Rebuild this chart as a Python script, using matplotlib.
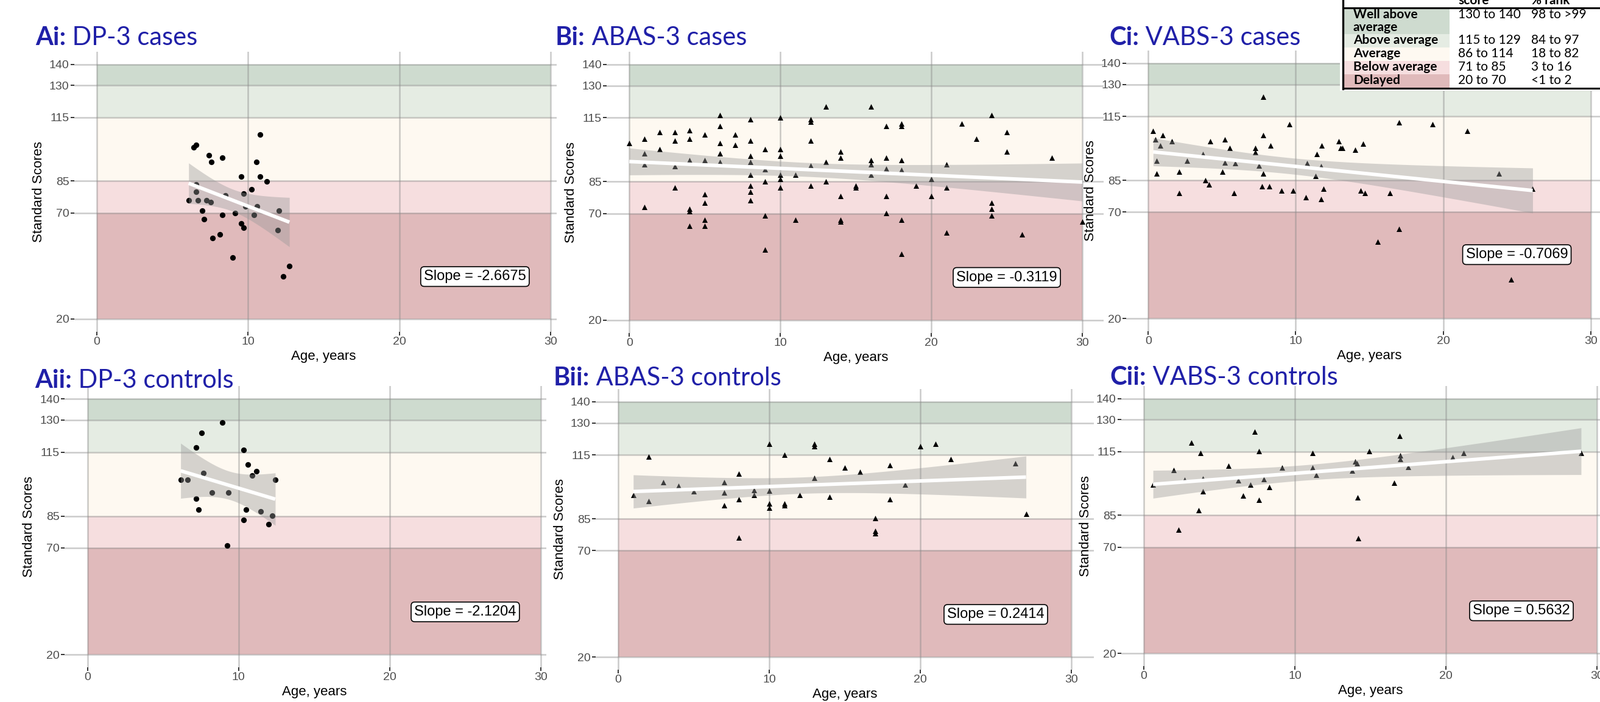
import numpy as np
import matplotlib.pyplot as plt
from matplotlib.patches import Rectangle

W, H = 2627, 1153

# ---------------- data ----------------
dp3_cases_age = [6.42, 6.56, 7.41, 7.58, 8.31, 10.81, 10.55, 9.56, 10.81, 11.22, 10.23, 9.72,
                 8.50, 6.56, 6.58, 6.07, 6.67, 7.25, 7.55, 6.97, 7.07, 8.31, 9.15, 9.82,
                 10.58, 10.39, 12.06, 9.56, 9.72, 11.96, 8.15, 7.64, 8.98, 12.73, 12.31]
dp3_cases_score = [100.9, 102.0, 97.1, 94.0, 96.0, 107.0, 94.0, 87.0, 87.0, 84.9, 81.0, 79.0,
                   78.3, 83.3, 80.0, 76.0, 76.0, 76.0, 75.0, 71.0, 67.0, 69.0, 70.0, 73.0,
                   73.0, 69.0, 71.0, 65.0, 63.0, 62.0, 60.0, 58.0, 49.0, 45.0, 40.0]

dp3_ctrl_age = [8.91, 7.57, 7.18, 10.35, 10.60, 11.18, 10.92, 7.67, 6.17, 6.61, 12.43,
                8.24, 9.33, 7.18, 7.34, 10.51, 11.48, 12.24, 10.35, 11.99, 9.26]
dp3_ctrl_score = [129.0, 124.1, 117.1, 116.1, 109.1, 106.1, 104.1, 105.2, 102.1, 102.1, 102.1,
                  96.1, 96.1, 93.1, 88.1, 88.1, 87.1, 85.1, 83.1, 81.1, 71.1]

abas_cases_age = [13, 16, 6, 10, 12, 12, 24, 8, 22, 17, 18, 18, 6, 4, 2, 3, 25, 5, 7, 1, 4, 23,
                  0, 3, 8, 12, 6, 7, 2, 9, 10, 1, 6, 14, 25, 8, 10, 14, 17, 28, 4, 5, 16, 18,
                  6, 8, 13, 1, 16, 21, 3, 12, 9, 17, 18, 8, 10, 11, 16, 10, 20, 9, 13, 8, 12,
                  15, 15, 19, 3, 10, 21, 8, 5, 14, 17, 20, 8, 5, 24, 1, 4, 4, 24, 17, 9, 24,
                  5, 11, 14, 14, 18, 30, 4, 5, 21, 26, 9, 18]
abas_cases_score = [120.1, 120.1, 116.1, 115.1, 114.2, 113.1, 116.1, 114.2, 112.2, 111.1, 112.2,
                    111.1, 111.1, 109.1, 108.2, 108.2, 108.2, 107.1, 107.1, 105.1, 105.1, 105.1,
                    103.1, 104.2, 104.2, 104.2, 103.1, 102.2, 100.2, 100.2, 100.2, 98.2, 98.2,
                    99.1, 99.1, 97.1, 97.1, 96.2, 96.2, 96.2, 95.2, 95.2, 95.2, 95.2, 94.3, 94.3,
                    94.3, 93.0, 93.0, 93.0, 92.1, 92.4, 90.7, 91.1, 90.4, 88.1, 88.1, 88.1, 88.1,
                    86.1, 86.1, 85.1, 85.1, 83.1, 83.1, 83.1, 82.2, 83.1, 82.2, 82.2, 82.2, 80.1,
                    79.1, 78.2, 78.2, 78.2, 76.2, 75.1, 75.1, 73.2, 72.2, 71.2, 72.2, 70.2, 69.2,
                    69.2, 67.2, 67.2, 67.2, 66.2, 67.2, 66.2, 64.3, 64.3, 61.2, 60.3, 53.2, 51.2]

abas_ctrl_age = [10, 13, 13, 21, 20, 2, 11, 14, 22, 26.3, 15, 18, 16, 8, 13, 3, 7, 4, 19, 5, 9,
                 10, 1, 9, 12, 7, 14, 2, 8, 18, 7, 10, 10, 11, 11, 27, 17, 17, 17, 8]
abas_ctrl_score = [120.3, 120.3, 119.2, 120.3, 119.2, 114.2, 115.2, 113.2, 113.2, 111.2, 109.2,
                   110.2, 107.2, 106.2, 104.2, 102.2, 102.2, 100.4, 101.0, 97.9, 98.6, 98.2, 96.1,
                   96.1, 96.1, 97.2, 95.2, 93.2, 94.2, 94.2, 91.2, 92.2, 90.2, 92.2, 91.2, 87.2,
                   85.2, 79.2, 78.2, 76.2]

vabs_cases_age = [7.80, 17.0, 19.27, 9.56, 21.64, 0.33, 0.96, 7.78, 0.47, 5.18, 1.60, 4.22, 12.91,
                  14.56, 0.82, 8.31, 11.76, 5.53, 7.24, 13.04, 13.18, 14.02, 7.24, 11.44, 3.71,
                  0.56, 2.62, 5.18, 5.91, 10.78, 7.51, 11.71, 2.09, 5.04, 0.56, 7.80, 11.36, 23.8,
                  3.87, 4.11, 7.71, 8.22, 11.87, 26.07, 9.04, 9.82, 14.40, 2.11, 5.80, 14.71,
                  16.40, 10.69, 11.71, 17.0, 15.58, 24.6]
vabs_cases_score = [124.3, 112.2, 111.3, 111.3, 108.2, 108.2, 106.2, 106.2, 104.2, 104.2, 103.2,
                    103.2, 103.2, 102.2, 101.2, 101.2, 101.2, 100.2, 100.2, 100.2, 100.2, 99.2,
                    98.2, 97.2, 97.4, 94.2, 94.2, 93.4, 92.9, 93.1, 91.8, 91.5, 89.1, 89.1, 88.2,
                    88.2, 87.1, 88.2, 85.1, 83.1, 82.2, 82.2, 81.1, 81.1, 80.2, 80.2, 80.2, 79.1,
                    79.1, 79.1, 79.1, 77.1, 76.2, 62.2, 56.2, 38.2]

vabs_ctrl_age = [7.32, 16.95, 3.14, 3.75, 7.63, 11.15, 14.92, 21.18, 28.95, 16.99, 20.44, 16.99,
                 14.01, 14.10, 5.60, 9.15, 11.15, 17.52, 1.98, 11.42, 13.79, 3.90, 7.95, 2.70,
                 6.25, 16.56, 0.61, 7.04, 8.32, 3.92, 6.58, 7.63, 14.14, 3.64, 2.31, 14.18]
vabs_ctrl_score = [124.3, 122.4, 119.3, 114.3, 115.3, 114.3, 115.3, 114.3, 114.3, 113.3, 112.3,
                   111.4, 110.4, 109.4, 108.3, 107.4, 107.4, 107.9, 106.3, 104.1, 106.0, 102.4,
                   102.1, 101.7, 101.4, 100.3, 99.4, 99.4, 98.3, 96.3, 94.3, 92.4, 93.3, 87.3,
                   78.3, 74.3]

panel_titles = [("Ai:", " DP-3 cases"), ("Bi:", " ABAS-3 cases"), ("Ci:", " VABS-3 cases"),
                ("Aii:", " DP-3 controls"), ("Bii:", " ABAS-3 controls"), ("Cii:", " VABS-3 controls")]
slope_labels = ["Slope = -2.6675", "Slope = -0.3119", "Slope = -0.7069",
                "Slope = -2.1204", "Slope = 0.2414", "Slope = 0.5632"]

band_names = ["Well above\naverage", "Above average", "Average", "Below average", "Delayed"]
band_scores = ["130 to 140", "115 to 129", "86 to 114", "71 to 85", "20 to 70"]
band_ranks = ["98 to >99", "84 to 97", "18 to 82", "3 to 16", "<1 to 2"]
band_lo = [130, 115, 85, 70, 20]
band_hi = [140, 130, 115, 85, 70]
band_colors = ["#CEDBCF", "#E5ECE3", "#FEF9F1", "#F6DEDF", "#E0BABB"]

y_breaks = [20, 70, 85, 115, 130, 140]
x_breaks = [0, 10, 20, 30]

# ---------------- layout (pixels in the 2627x1153 canvas) ----------------
# x of age 0, x of age 30, y of score 140, y of score 20, right cut of the panel
geom = [(159, 904, 105.5, 524, 914), (1033.3, 1777, 105.7, 525.7, 1812),
        (1885.3, 2611.6, 104, 523, 2627), (143.5, 888, 655, 1075, 897),
        (1015, 1759, 660, 1079, 1796), (1878, 2622, 654.6, 1073, 2627)]
title_pos = [(58, 74), (912, 74), (1821, 74), (57, 637), (909, 633), (1822, 632)]
label_y = [40, 40, 50, 40, 40, 40]

data = [(dp3_cases_age, dp3_cases_score, "o"), (abas_cases_age, abas_cases_score, "^"),
        (vabs_cases_age, vabs_cases_score, "^"), (dp3_ctrl_age, dp3_ctrl_score, "o"),
        (abas_ctrl_age, abas_ctrl_score, "^"), (vabs_ctrl_age, vabs_ctrl_score, "^")]

arial = ["Liberation Sans", "DejaVu Sans"]
calibri = ["Lato", "DejaVu Sans"]
blue = "#2020A8"

fig = plt.figure(figsize=(W / 100, H / 100), dpi=100)
fig.patch.set_facecolor("white")


def ols_band(x, y):
    x = np.asarray(x, float)
    y = np.asarray(y, float)
    n = len(x)
    b, a = np.polyfit(x, y, 1)
    xs = np.linspace(x.min(), x.max(), 80)
    fit = a + b * xs
    resid = y - (a + b * x)
    s = np.sqrt((resid ** 2).sum() / (n - 2))
    sxx = ((x - x.mean()) ** 2).sum()
    tcrit = 1.96 + 2.5 / (n - 2)
    se = s * np.sqrt(1.0 / n + (xs - x.mean()) ** 2 / sxx)
    return xs, fit, fit - tcrit * se, fit + tcrit * se


for i, (x0, x30, y140, y20, rcut) in enumerate(geom):
    ux = (x30 - x0) / 30.0
    uy = (y20 - y140) / 120.0
    left = x0 - 1.5 * ux
    right = min(rcut, x0 + 31.5 * ux)
    top = y140 - 6 * uy
    bottom = y20 + 6 * uy
    ax = fig.add_axes([left / W, 1 - bottom / H, (right - left) / W, (bottom - top) / H])
    ax.patch.set_alpha(0)
    xmax = (right - x0) / ux
    ax.set_xlim(-1.5, xmax)
    ax.set_ylim(14, 146)

    for lo, hi, c in zip(band_lo, band_hi, band_colors):
        ax.add_patch(Rectangle((0, lo), 30, hi - lo, facecolor=c, edgecolor="none", zorder=1))

    ax.set_axisbelow(False)
    ax.grid(True, color="#8a8a8a", alpha=0.45, linewidth=1.8)
    for sp in ax.spines.values():
        sp.set_visible(False)
    ax.set_xticks(x_breaks)
    ax.set_yticks(y_breaks)
    ax.tick_params(length=4, width=1.4, color="#333333", labelcolor="#4D4D4D",
                   labelsize=14, pad=2)
    for lab in ax.get_xticklabels() + ax.get_yticklabels():
        lab.set_family(arial)

    xs, ys, mk = data[i]
    ax.scatter(xs, ys, marker=mk, s=44 if mk == "o" else 42, color="black",
               linewidths=0, zorder=3)
    gx, gfit, glo, ghi = ols_band(xs, ys)
    ax.fill_between(gx, glo, ghi, color="#999999", alpha=0.4, linewidth=0, zorder=4)
    ax.plot(gx, gfit, color="white", linewidth=4.2, zorder=5, solid_capstyle="butt")

    ax.text(25, label_y[i], slope_labels[i], ha="center", va="center", fontsize=17,
            family=arial, zorder=6,
            bbox=dict(boxstyle="round,pad=0.22,rounding_size=0.25", fc="white",
                      ec="black", lw=1.2))

    ax.set_xlabel("Age, years", fontsize=16, family=arial, labelpad=3.5)
    ax.xaxis.label.set_x((15 + 1.5) / (xmax + 1.5))
    ax.set_ylabel("Standard Scores", fontsize=16, family=arial, labelpad=5)

    tx, ty = title_pos[i]
    bold, rest = panel_titles[i]
    t1 = ax.text(tx / W, 1 - ty / H, bold, transform=fig.transFigure, fontsize=30,
                 weight="bold", color=blue, family=calibri, va="baseline", ha="left",
                 zorder=10)
    ax.annotate(rest, xy=(1, 0), xycoords=t1, va="bottom", ha="left", fontsize=30,
                color=blue, family=calibri, annotation_clip=False, zorder=10)

# ---------------- legend table (top right) ----------------
tl, tb = 2200, 149
tab = fig.add_axes([tl / W, 1 - tb / H, (W - tl) / W, tb / H])
tab.set_xlim(0, W - tl)
tab.set_ylim(tb, 0)
tab.axis("off")
tab.add_patch(Rectangle((0, 0), W - tl, tb, facecolor="white", edgecolor="none", zorder=0))
row_h = [42, 22, 22, 22, 22]
row_top = 13.5
col_x = [22, 194, 314]
tfs = 15
tab.text(col_x[1], 7, "score", fontsize=tfs, weight="bold", family=calibri, va="baseline")
tab.text(col_x[2], 7, "% rank", fontsize=tfs, weight="bold", family=calibri, va="baseline")
for name, sc, rk, c, h in zip(band_names, band_scores, band_ranks, band_colors, row_h):
    tab.add_patch(Rectangle((6, row_top), 174, h, facecolor=c, edgecolor="none", zorder=1))
    tab.text(col_x[0], row_top + 1, name, fontsize=tfs, weight="bold", family=calibri,
             va="top", linespacing=1.05, zorder=2)
    tab.text(col_x[1], row_top + 1, sc, fontsize=tfs, family=calibri, va="top", zorder=2)
    tab.text(col_x[2], row_top + 1, rk, fontsize=tfs, family=calibri, va="top", zorder=2)
    row_top += h
tab.plot([5, W - tl], [13, 13], color="black", lw=2.2, zorder=3)
tab.plot([5, W - tl], [row_top + 1.5, row_top + 1.5], color="black", lw=2.2, zorder=3)
tab.plot([5, 5], [0, row_top + 2.5], color="black", lw=2.4, zorder=3)

fig.savefig("out.png", dpi=100)
